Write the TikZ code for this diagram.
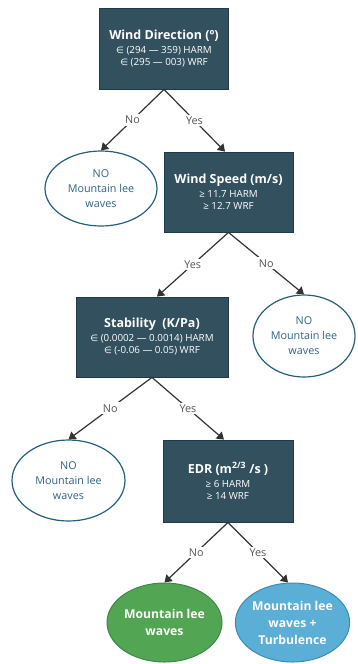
\documentclass[tikz,border=0pt]{standalone}
\usepackage{fontspec}
\setmainfont{Open Sans}
\newfontfamily\symf{DejaVu Sans}
\usetikzlibrary{shapes.geometric,arrows.meta}
\definecolor{boxfill}{HTML}{33505F}
\definecolor{boxdraw}{HTML}{1F3A48}
\definecolor{ellline}{HTML}{24607E}
\definecolor{elltext}{HTML}{2E6482}
\definecolor{greenfill}{HTML}{52A552}
\definecolor{greendraw}{HTML}{3C8A45}
\definecolor{bluefill}{HTML}{5BAFD6}
\definecolor{bluedraw}{HTML}{3A8CB5}
\definecolor{linec}{HTML}{333333}
\definecolor{labc}{HTML}{555555}
\newcommand{\inn}{{\symf\fontsize{9}{10}\selectfont ∈}}
\tikzset{
  decbox/.style={rectangle, fill=boxfill, draw=boxdraw, line width=0.8pt, text=white, align=center, inner sep=0pt},
  noell/.style={ellipse, draw=ellline, fill=white, line width=1.2pt, text=elltext, align=center, inner sep=0pt,
     font=\fontsize{10.8}{15}\selectfont},
  resgreen/.style={ellipse, fill=greenfill, draw=greendraw, line width=1pt, text=white, align=center, inner sep=0pt,
     font=\bfseries\fontsize{12.2}{17}\selectfont},
  resblue/.style={ellipse, fill=bluefill, draw=bluedraw, line width=1pt, text=white, align=center, inner sep=0pt,
     font=\bfseries\fontsize{12.2}{17}\selectfont},
  conn/.style={draw=linec, line width=1.2pt, -{Triangle[width=9pt,length=7pt]}},
  lab/.style={fill=white, text=labc, font=\fontsize{10.8}{12}\selectfont, inner sep=2pt}
}
\newcommand{\ttl}[1]{{\bfseries\fontsize{12.5}{15}\selectfont #1}}
\newcommand{\sub}[1]{{\fontsize{9.8}{15}\selectfont #1}}
\begin{document}
\begin{tikzpicture}[x=1pt,y=-1pt]
\useasboundingbox (0,0) rectangle (357,664);
\node[decbox, minimum width=129pt, minimum height=81pt] (b1) at (164,48.5)
  {\ttl{Wind Direction (º)}\\[2pt]\sub{\inn\ (294 — 359) HARM}\\\sub{\inn\ (295 — 003) WRF}};
\node[noell, minimum width=112pt, minimum height=75pt] (e1) at (101,188.5) {NO\\Mountain lee\\waves};
\node[decbox, minimum width=129pt, minimum height=80pt] (b2) at (228.5,192)
  {\ttl{Wind Speed (m/s)}\\[2pt]\sub{≥ 11.7 HARM}\\\sub{≥ 12.7 WRF}};
\node[decbox, minimum width=152pt, minimum height=80pt] (b3) at (152,337)
  {\ttl{Stability\ \ (K/Pa)}\\[2pt]\sub{\inn\ (0.0002 — 0.0014) HARM}\\\sub{\inn\ (-0.06 — 0.05) WRF}};
\node[noell, minimum width=102pt, minimum height=82pt] (e2) at (304,336) {NO\\Mountain lee\\waves};
\node[noell, minimum width=113pt, minimum height=81pt] (e3) at (68.5,480.5) {NO\\Mountain lee\\waves};
\node[decbox, minimum width=130pt, minimum height=82pt] (b4) at (228,481)
  {\ttl{EDR (m\textsuperscript{2/3} /s )}\\[2pt]\sub{≥ 6 HARM}\\\sub{≥ 14 WRF}};
\node[resgreen, minimum width=115pt, minimum height=79pt] (g) at (164.5,622.5) {Mountain lee\\waves};
\node[resblue, minimum width=113pt, minimum height=79pt] (t) at (292.5,622.5) {Mountain lee\\waves +\\Turbulence};
\draw[conn] (b1.south) -- node[lab]{No} (e1.north);
\draw[conn] (b1.south) -- node[lab]{Yes} (b2.north -| 225,0);
\draw[conn] (b2.south) -- node[lab]{Yes} (b3.north -| 157,0);
\draw[conn] (b2.south) -- node[lab]{No} (e2.north);
\draw[conn] (b3.south) -- node[lab]{No} (e3.north);
\draw[conn] (b3.south) -- node[lab]{Yes} (b4.north -| 224,0);
\draw[conn] (b4.south) -- node[lab]{No} (g.north);
\draw[conn] (b4.south) -- node[lab]{Yes} (t.north -| 288,0);
\end{tikzpicture}
\end{document}
